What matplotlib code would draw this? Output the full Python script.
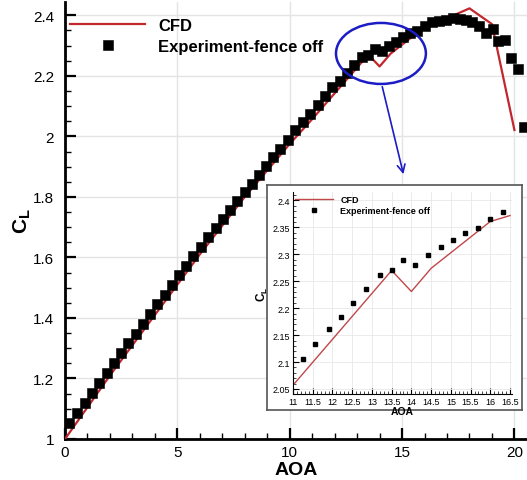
import matplotlib
matplotlib.use("Agg")
import matplotlib.pyplot as plt
from matplotlib.patches import Ellipse
from matplotlib.lines import Line2D
from matplotlib.ticker import MultipleLocator

plt.rcParams['font.family'] = ['Liberation Sans', 'DejaVu Sans']
plt.rcParams['mathtext.fontset'] = 'custom'
plt.rcParams['mathtext.rm'] = 'Liberation Sans'
plt.rcParams['mathtext.bf'] = 'Liberation Sans:bold'

# CFD curve
cfd_aoa = [0, 2, 4, 6, 8, 10, 11, 13.5, 14, 14.5, 16, 16.5, 17, 18, 19, 20]
cfd_cl = [1.0, 1.21, 1.41, 1.61, 1.80, 1.975, 2.057, 2.27, 2.231, 2.274, 2.361, 2.372,
          2.39, 2.423, 2.371, 2.021]

# experiment, fence off
exp_aoa = [0.19, 0.55, 0.87, 1.20, 1.53, 1.87, 2.17, 2.49, 2.82, 3.14, 3.47, 3.78,
           4.11, 4.43, 4.75, 5.07, 5.39, 5.71, 6.05, 6.38, 6.70, 7.02, 7.34, 7.67,
           8.00, 8.31, 8.63, 8.95, 9.27, 9.58, 9.92, 10.25, 10.57, 10.91, 11.25, 11.57,
           11.90, 12.22, 12.53, 12.85, 13.20, 13.50, 13.80, 14.10, 14.42, 14.74, 15.05,
           15.37, 15.68, 16.00, 16.32, 16.63, 16.95, 17.25, 17.57, 17.85, 18.12, 18.44,
           18.74, 19.05, 19.28, 19.58, 19.87, 20.17, 20.42]
exp_cl = [1.052, 1.086, 1.119, 1.152, 1.186, 1.217, 1.250, 1.283, 1.316, 1.348, 1.381,
          1.413, 1.446, 1.477, 1.510, 1.541, 1.573, 1.605, 1.636, 1.667, 1.697, 1.727,
          1.757, 1.785, 1.815, 1.843, 1.874, 1.903, 1.932, 1.959, 1.988, 2.020, 2.047,
          2.075, 2.105, 2.134, 2.162, 2.184, 2.209, 2.235, 2.262, 2.270, 2.290, 2.281,
          2.298, 2.313, 2.327, 2.340, 2.349, 2.365, 2.378, 2.381, 2.386, 2.392, 2.387,
          2.384, 2.378, 2.364, 2.342, 2.355, 2.315, 2.318, 2.260, 2.223, 2.030]

# inset (zoomed region)
ins_cfd_aoa = [11, 13.5, 14, 14.5, 16, 16.5]
ins_cfd_cl = [2.057, 2.27, 2.231, 2.274, 2.361, 2.372]
ins_exp_aoa = [11.25, 11.57, 11.90, 12.22, 12.53, 12.85, 13.20, 13.50, 13.80, 14.10,
               14.42, 14.74, 15.05, 15.37, 15.68, 16.00, 16.32]
ins_exp_cl = [2.105, 2.134, 2.162, 2.184, 2.209, 2.235, 2.262, 2.270, 2.290, 2.281,
              2.298, 2.313, 2.327, 2.340, 2.349, 2.365, 2.378]

W, H = 527, 481
fig = plt.figure(figsize=(W / 100, H / 100), dpi=100)

def px(l, t, r, b):
    return [l / W, 1 - b / H, (r - l) / W, (b - t) / H]

red = '#c1272d'
blue = '#1c1cc4'

ax = fig.add_axes(px(65, 3, 527, 440))
ax.plot(cfd_aoa, cfd_cl, color=red, lw=1.6, zorder=3)
ax.plot(exp_aoa, exp_cl, ls='none', marker='s', color='black', ms=6.6, mew=0.4, zorder=4)
ax.set_xlim(0, 20.56)
ax.set_ylim(1, 2.444)
ax.xaxis.set_major_locator(MultipleLocator(5))
ax.xaxis.set_minor_locator(MultipleLocator(1))
ax.yaxis.set_minor_locator(MultipleLocator(0.05))
ax.set_yticks([1, 1.2, 1.4, 1.6, 1.8, 2, 2.2, 2.4])
ax.set_yticklabels(['1', '1.2', '1.4', '1.6', '1.8', '2', '2.2', '2.4'])
ax.tick_params(which='major', direction='in', length=8, width=1.6, labelsize=11, pad=4)
ax.tick_params(which='minor', direction='in', length=4, width=1.0)
ax.tick_params(axis='y', which='major', pad=8)
for s in ['top', 'right']:
    ax.spines[s].set_visible(False)
for s in ['left', 'bottom']:
    ax.spines[s].set_linewidth(2)
ax.grid(True, which='major', color='#e4e4e4', lw=1)
ax.set_axisbelow(True)
ax.set_xlabel('AOA', fontsize=14, fontweight='bold', labelpad=2)
ax.set_ylabel(r'$\mathbf{C_L}$', fontsize=15, labelpad=0)

handles = [Line2D([], [], color=red, lw=1.6),
           Line2D([], [], ls='none', marker='s', color='black', ms=6.6, mew=0.4)]
ax.legend(handles, ['CFD', 'Experiment-fence off'], loc='upper left',
          bbox_to_anchor=(70 / W, 1 - 19 / H), bbox_transform=fig.transFigure,
          frameon=False, borderpad=0, borderaxespad=0, handlelength=4.5,
          handletextpad=0.8, labelspacing=0.35,
          prop={'family': 'Liberation Sans', 'weight': 'bold', 'size': 12})

# highlight ellipse + arrow to the inset
ax.add_patch(Ellipse((14.06, 2.274), 4.0, 0.2016, fill=False, ec=blue, lw=1.8, zorder=5))
ax.annotate('', xy=(15.09, 1.866), xytext=(14.09, 2.173),
            arrowprops=dict(arrowstyle='->', color=blue, lw=1.2, mutation_scale=14))

# inset frame
frame = fig.add_axes(px(267, 186, 522, 411))
frame.set_xticks([])
frame.set_yticks([])
for s in frame.spines.values():
    s.set_color('#555555')
    s.set_linewidth(1.2)
frame.set_zorder(5)

ins = fig.add_axes(px(293, 193, 512, 395))
ins.set_zorder(6)
ins.plot(ins_cfd_aoa, ins_cfd_cl, color='#c0474a', lw=1.0)
ins.plot(ins_exp_aoa, ins_exp_cl, ls='none', marker='s', color='black', ms=3)
ins.set_xlim(11, 16.55)
ins.set_ylim(2.0407, 2.4157)
ins.xaxis.set_minor_locator(MultipleLocator(0.1))
ins.yaxis.set_minor_locator(MultipleLocator(0.01))
ins.set_xticks([11, 11.5, 12, 12.5, 13, 13.5, 14, 14.5, 15, 15.5, 16, 16.5])
ins.set_xticklabels(['11', '11.5', '12', '12.5', '13', '13.5', '14', '14.5', '15',
                     '15.5', '16', '16.5'])
ins.set_yticks([2.05, 2.1, 2.15, 2.2, 2.25, 2.3, 2.35, 2.4])
ins.set_yticklabels(['2.05', '2.1', '2.15', '2.2', '2.25', '2.3', '2.35', '2.4'])
ins.tick_params(which='major', direction='in', length=4, width=0.8, labelsize=6.5, pad=2)
ins.tick_params(which='minor', direction='in', length=2, width=0.5)
for s in ['top', 'right']:
    ins.spines[s].set_visible(False)
ins.grid(True, which='major', color='#e8e8e8', lw=0.6)
ins.set_axisbelow(True)
ins.set_xlabel('AOA', fontsize=7.5, fontweight='bold', labelpad=0)
ins.set_ylabel(r'$\mathbf{C_L}$', fontsize=8.5, labelpad=2)
ih = [Line2D([], [], color='#c0474a', lw=1.0),
      Line2D([], [], ls='none', marker='s', color='black', ms=3)]
ins.legend(ih, ['CFD', 'Experiment-fence off'], loc='upper left',
           bbox_to_anchor=(295 / W, 1 - 196 / H), bbox_transform=fig.transFigure,
           frameon=False, borderpad=0, borderaxespad=0, handlelength=4.2,
           handletextpad=0.8, labelspacing=0.2,
           prop={'family': 'Liberation Sans', 'weight': 'bold', 'size': 6.5})

fig.savefig('out.png', dpi=100)
